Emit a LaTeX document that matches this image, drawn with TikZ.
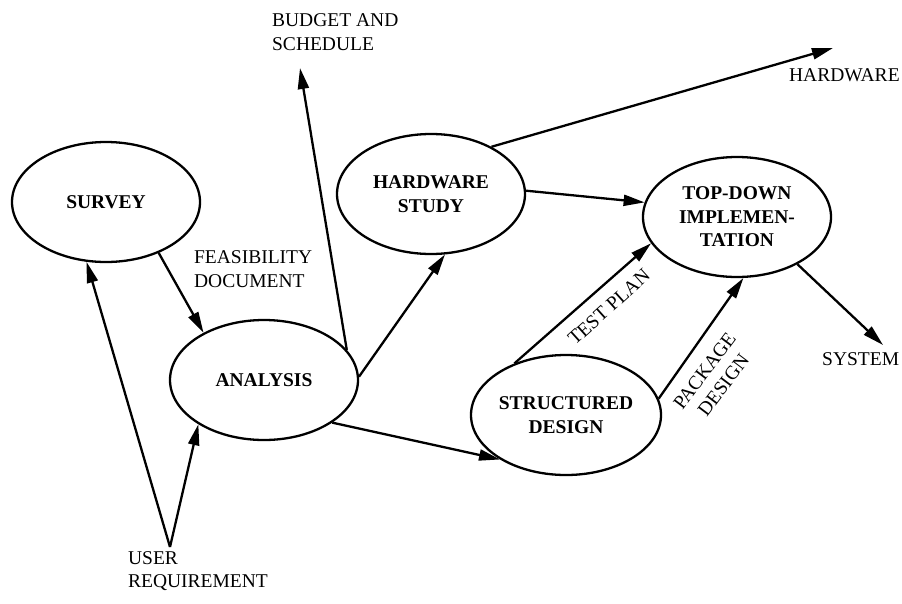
\documentclass[tikz,border=0pt]{standalone}
\usepackage{fontspec}
\setmainfont{Liberation Serif}
\usetikzlibrary{shapes.geometric,arrows.meta}

\begin{document}
\begin{tikzpicture}[x=1pt,y=-1pt,line width=2.3pt,>={Triangle[length=21pt,width=11pt]}]
\tikzstyle{every node}=[font=\fontsize{19.5}{23.5}\selectfont,inner sep=0pt]
\tikzstyle{proc}=[draw, ellipse, minimum width=188pt, minimum height=120pt, align=center, font=\fontsize{19.5}{23.5}\selectfont\bfseries]
\useasboundingbox (0,0) rectangle (902,603);

% Processes
\node[proc] (sur) at (106,202) {SURVEY};
\node[proc] (ana) at (264,380) {ANALYSIS};
\node[proc] (hw) at (431,194) {HARDWARE\\STUDY};
\node[proc] (sd) at (566,415) {STRUCTURED\\DESIGN};
\node[proc] (top) at (737,217) {TOP-DOWN\\IMPLEMEN-\\TATION};

% Outside data
\node[anchor=west, align=left] (budget) at (271,32) {BUDGET AND\\SCHEDULE};
\node[anchor=west] (hwlabel) at (788,75) {HARDWARE};
\node[anchor=west, align=left] (feas) at (193,269) {FEASIBILITY\\DOCUMENT};
\node[anchor=west, align=left] (user) at (127,571) {USER\\REQUIREMENT};
\node[anchor=west] (sys) at (821,359) {SYSTEM};
\node[rotate=42] (test) at (609,307) {TEST PLAN};
\node[rotate=53, align=center] (pack) at (714,378) {PACKAGE\\DESIGN};

\coordinate (req) at (170,547);
\coordinate (budgetend) at (300,68);
\coordinate (hwout) at (833,48);
\coordinate (sysend) at (883,345);

% Flows
\foreach \a/\b in {req/sur.252, req/ana.214, sur.-44/ana.142, ana.20/budgetend,
  ana.2/hw.-77, ana.-32/sd.214, hw.38/hwout, hw.2/top.171,
  sd.135/top.197, sd.10/top.-84, top.-38/sysend}
  \draw[->] (\a) -- (\b);
\end{tikzpicture}
\end{document}
